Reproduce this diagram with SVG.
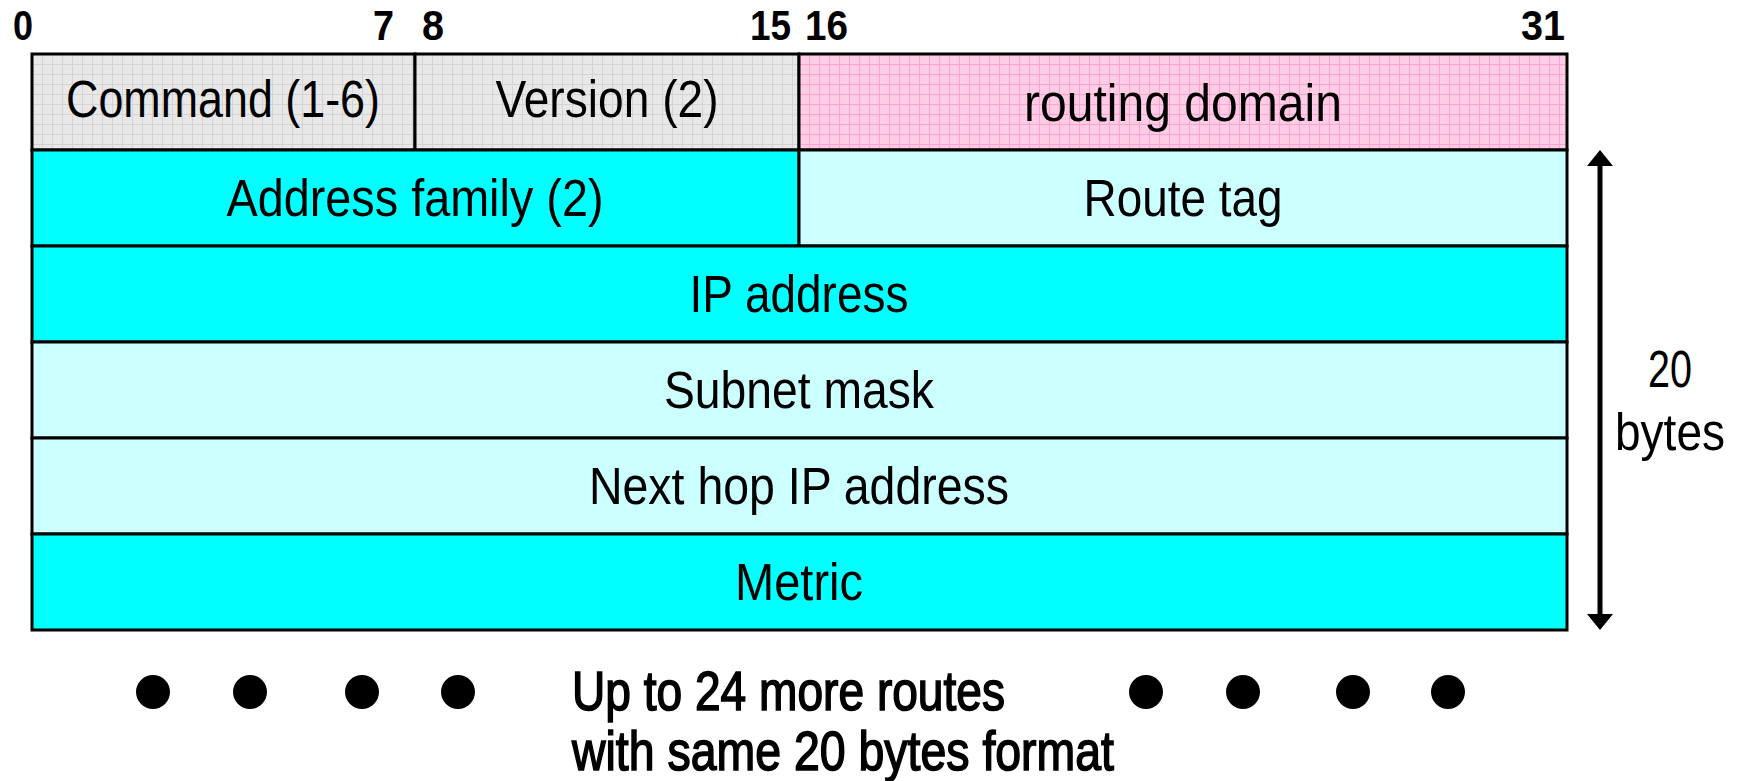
<svg xmlns="http://www.w3.org/2000/svg" width="1740" height="781" viewBox="0 0 1740 781">
<style>
.cell{stroke:#000;stroke-width:3}
.t{font-family:"Liberation Sans Narrow","Arial Narrow","Liberation Sans",sans-serif;font-size:51px;fill:#000;text-anchor:middle}
.s{text-anchor:start;font-size:56px;stroke:#000;stroke-width:1.6px}
.b{font-family:"Liberation Sans Narrow","Arial Narrow","Liberation Sans",sans-serif;font-size:42px;font-weight:bold;fill:#000}
.e{text-anchor:end}
.cyan{fill:#00ffff}
.lcyan{fill:#ccffff}
</style>
<defs>
<pattern id="gray" width="10" height="10" patternUnits="userSpaceOnUse" x="32" y="54">
<rect width="10" height="10" fill="#e8e8e8"/>
<path d="M0 0.5H10M0.5 0V10" stroke="#d4d4d4" stroke-width="1"/>
</pattern>
<pattern id="pink" width="10" height="10" patternUnits="userSpaceOnUse" x="799" y="54">
<rect width="10" height="10" fill="#ffcce6"/>
<path d="M0 0.5H10M0.5 0V10" stroke="#ffa3d1" stroke-width="1"/>
</pattern>
</defs>
<rect width="1740" height="781" fill="#fff"/>
<g id="bit-labels">
<text class="b" x="13" y="40" textLength="20" lengthAdjust="spacingAndGlyphs">0</text>
<text class="b e" x="394" y="40" textLength="21" lengthAdjust="spacingAndGlyphs">7</text>
<text class="b" x="422" y="40" textLength="22" lengthAdjust="spacingAndGlyphs">8</text>
<text class="b e" x="791" y="40" textLength="41" lengthAdjust="spacingAndGlyphs">15</text>
<text class="b" x="805" y="40" textLength="43" lengthAdjust="spacingAndGlyphs">16</text>
<text class="b e" x="1565" y="40" textLength="44" lengthAdjust="spacingAndGlyphs">31</text>
</g>
<g id="command"><rect class="cell" x="32" y="54" width="383" height="96" fill="url(#gray)"/><text class="t" x="223" y="117" textLength="314" lengthAdjust="spacingAndGlyphs">Command (1-6)</text></g>
<g id="version"><rect class="cell" x="415" y="54" width="384" height="96" fill="url(#gray)"/><text class="t" x="607" y="117" textLength="223" lengthAdjust="spacingAndGlyphs">Version (2)</text></g>
<g id="routing-domain"><rect class="cell" x="799" y="54" width="768" height="96" fill="url(#pink)"/><text class="t" x="1183" y="121" textLength="318" lengthAdjust="spacingAndGlyphs">routing domain</text></g>
<g id="address-family"><rect class="cell cyan" x="32" y="150" width="767" height="96"/><text class="t" x="415" y="216" textLength="377" lengthAdjust="spacingAndGlyphs">Address family (2)</text></g>
<g id="route-tag"><rect class="cell lcyan" x="799" y="150" width="768" height="96"/><text class="t" x="1183" y="216" textLength="199" lengthAdjust="spacingAndGlyphs">Route tag</text></g>
<g id="ip-address"><rect class="cell cyan" x="32" y="246" width="1535" height="96"/><text class="t" x="799" y="312" textLength="219" lengthAdjust="spacingAndGlyphs">IP address</text></g>
<g id="subnet-mask"><rect class="cell lcyan" x="32" y="342" width="1535" height="96"/><text class="t" x="799" y="408" textLength="270" lengthAdjust="spacingAndGlyphs">Subnet mask</text></g>
<g id="next-hop"><rect class="cell lcyan" x="32" y="438" width="1535" height="96"/><text class="t" x="799" y="504" textLength="420" lengthAdjust="spacingAndGlyphs">Next hop IP address</text></g>
<g id="metric"><rect class="cell cyan" x="32" y="534" width="1535" height="96"/><text class="t" x="799" y="600" textLength="128" lengthAdjust="spacingAndGlyphs">Metric</text></g>
<g id="connectors">
<line x1="1600" y1="164" x2="1600" y2="616" stroke="#000" stroke-width="5"/>
<polygon points="1600,150 1613,166 1587,166" fill="#000"/>
<polygon points="1600,630 1613,614 1587,614" fill="#000"/>
</g>
<g id="size-label">
<text class="t" x="1670" y="387" textLength="44" lengthAdjust="spacingAndGlyphs">20</text>
<text class="t" x="1670" y="450" textLength="110" lengthAdjust="spacingAndGlyphs">bytes</text>
</g>
<g id="more-routes">
<circle cx="153" cy="692" r="17"/>
<circle cx="250" cy="692" r="17"/>
<circle cx="362" cy="692" r="17"/>
<circle cx="458" cy="692" r="17"/>
<circle cx="1146" cy="692" r="17"/>
<circle cx="1243" cy="692" r="17"/>
<circle cx="1353" cy="692" r="17"/>
<circle cx="1448" cy="692" r="17"/>
<text class="t s" x="572" y="710" textLength="433" lengthAdjust="spacingAndGlyphs">Up to 24 more routes</text>
<text class="t s" x="572" y="770" textLength="542" lengthAdjust="spacingAndGlyphs">with same 20 bytes format</text>
</g>
</svg>
